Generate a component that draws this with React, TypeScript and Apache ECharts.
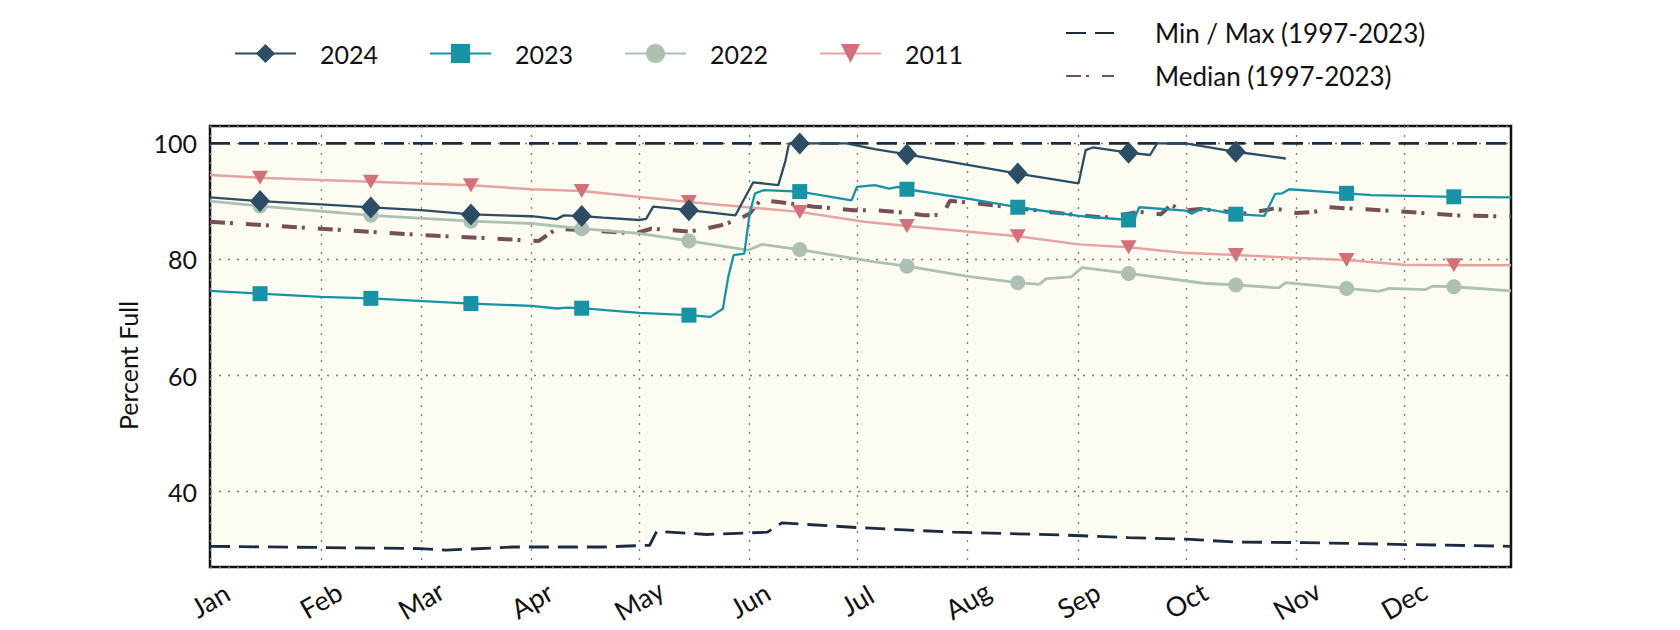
import React, { useEffect, useRef } from "react";
import * as echarts from "echarts";

const monthNames = ["Jan", "Feb", "Mar", "Apr", "May", "Jun", "Jul", "Aug", "Sep", "Oct", "Nov", "Dec"];
const monthStartDays = [0, 31, 59, 90, 120, 151, 181, 212, 243, 273, 304, 334];
const markerDays = [14, 45, 73, 104, 134, 165, 195, 226, 257, 287, 318, 348];
const yTicks = [40, 60, 80, 100];

const days2024 = [0, 14, 31, 45, 59, 73, 90, 97, 99, 104, 110, 120, 122, 124, 134, 147, 149, 152, 159, 161, 162, 165, 178, 186, 195, 212, 226, 243, 245, 247, 257, 263, 265, 273, 287, 301];
const pct2024 = [90.7, 90.06, 89.5, 88.97, 88.5, 87.76, 87.45, 86.95, 87.6, 87.47, 87.2, 86.8, 87.0, 89.1, 88.5, 87.6, 89.9, 93.3, 92.8, 97.0, 100, 100, 100, 99.0, 98.1, 96.3, 94.8, 93.1, 98.85, 99.3, 98.4, 98.0, 100, 100, 98.56, 97.4];

const days2023 = [0, 14, 31, 45, 73, 90, 97, 100, 104, 120, 134, 140, 143.5, 145, 146.5, 149.5, 151, 152.5, 155, 165, 179.5, 181, 186, 190, 192.5, 195, 212, 226, 243, 257, 258.5, 260, 273, 274.7, 277.5, 287, 295, 298, 300, 302, 318, 325, 348, 364];
const pct2023 = [74.6, 74.1, 73.56, 73.3, 72.4, 72.0, 71.55, 71.7, 71.6, 70.8, 70.4, 70.1, 71.5, 77.0, 80.75, 81.0, 88.0, 91.4, 91.95, 91.7, 90.2, 92.5, 92.8, 92.2, 92.5, 92.1, 90.5, 89.0, 87.5, 86.8, 86.8, 89.0, 88.4, 87.9, 88.8, 87.8, 87.5, 91.3, 91.4, 92.1, 91.4, 91.1, 90.8, 90.7];

const days2022 = [0, 14, 45, 73, 90, 104, 120, 134, 150.5, 154.5, 165, 180, 186, 195, 212, 226, 232, 234, 241, 244, 257, 278, 287, 299, 301, 318, 327, 330, 340, 342, 348, 364];
const pct2022 = [90.06, 89.2, 87.6, 86.6, 86.2, 85.3, 84.5, 83.2, 81.6, 82.6, 81.7, 80.2, 79.6, 78.85, 77.1, 76.0, 75.7, 76.7, 77.0, 78.6, 77.6, 75.9, 75.6, 75.1, 76.0, 75.0, 74.5, 75.0, 74.8, 75.4, 75.3, 74.6];

const days2011 = [0, 14, 31, 45, 59, 73, 90, 104, 134, 165, 183, 195, 226, 243, 257, 272, 287, 318, 334, 348, 364];
const pct2011 = [94.54, 94.1, 93.7, 93.4, 93.1, 92.8, 92.1, 91.8, 89.9, 88.2, 86.5, 85.75, 84.0, 82.6, 82.1, 81.15, 80.75, 79.9, 79.1, 79.0, 79.0];

const daysMedian = [0, 31, 59, 80, 88, 92, 97, 119, 123.5, 134, 138.5, 143, 147.5, 151, 154, 159, 169, 180, 186, 195, 200, 205, 207, 214, 239, 250, 260, 266, 269, 272, 277, 290, 298, 304, 309, 313, 330, 349, 364];
const pctMedian = [86.5, 85.3, 84.2, 83.6, 83.3, 83.2, 85.3, 84.5, 85.3, 84.8, 85.3, 85.9, 86.8, 87.9, 90.2, 89.9, 89.1, 88.5, 88.5, 88.0, 87.6, 87.7, 90.1, 89.7, 87.9, 87.2, 88.2, 87.8, 89.4, 88.4, 88.7, 87.9, 88.8, 88.0, 88.2, 89.0, 88.4, 87.6, 87.4];

const daysMin = [0, 59, 66, 85, 110, 123, 125, 139, 156, 160, 181, 208, 239, 257, 273, 287, 306, 336, 364];
const pctMin = [30.57, 30.17, 29.9, 30.45, 30.45, 30.75, 33.15, 32.6, 33.0, 34.6, 33.8, 33.0, 32.5, 32.07, 31.8, 31.3, 31.2, 30.86, 30.57];

const daysMax = [0, 364];
const pctMax = [100, 100];

const FONT = "Lato";
const TEXT = "#111111";

function pairs(days: number[], vals: number[]) {
  return days.map((d, i) => [d, vals[i]]);
}

function withMarkers(days: number[], vals: number[]) {
  return days.map((d, i) =>
    markerDays.indexOf(d) >= 0 ? { value: [d, vals[i]] } : { value: [d, vals[i]], symbol: "none" }
  );
}

export default function App() {
  const ref = useRef<HTMLDivElement>(null);

  useEffect(() => {
    if (!ref.current) return;
    const chart = echarts.init(ref.current, undefined, { renderer: "svg" });

    const minMaxName = "Min / Max (1997-2023)";
    const medianName = "Median (1997-2023)";

    const option: any = {
      animation: false,
      textStyle: { fontFamily: FONT, color: TEXT },
      grid: {
        left: 210,
        top: 126,
        width: 1301,
        height: 441,
        show: true,
        borderColor: "#111",
        borderWidth: 2.5,
        backgroundColor: "transparent",
      },
      legend: [
        {
          data: ["2024", "2023", "2022", "2011"],
          left: 229,
          top: 36,
          orient: "horizontal",
          itemWidth: 61,
          itemHeight: 24,
          itemGap: 51,
          textStyle: {
            fontFamily: FONT,
            fontSize: 25,
            color: TEXT,
            width: 54,
            lineHeight: 24,
            padding: [0, 0, 0, 19],
          },
        },
        {
          data: [minMaxName, medianName],
          left: 1060,
          top: 15,
          orient: "vertical",
          itemWidth: 48,
          itemHeight: 24,
          itemGap: 17,
          itemStyle: { opacity: 0 },
          textStyle: {
            fontFamily: FONT,
            fontSize: 26,
            color: TEXT,
            lineHeight: 24,
            padding: [0, 0, 0, 36],
          },
        },
      ],
      xAxis: {
        type: "value",
        min: 0,
        max: 364,
        axisLine: { show: false },
        axisTick: { show: false, customValues: monthStartDays },
        axisLabel: {
          customValues: monthStartDays,
          formatter: (v: number) => monthNames[monthStartDays.indexOf(v)] || "",
          rotate: 30,
          align: "center",
          verticalAlign: "middle",
          margin: 33,
          fontSize: 27,
          fontFamily: FONT,
          color: TEXT,
        },
        splitLine: {
          show: true,
          lineStyle: { color: "#7a7a7a", type: [2, 7], width: 1.3 },
        },
      },
      yAxis: {
        type: "value",
        min: 27,
        max: 103,
        splitNumber: 4,
        name: "Percent Full",
        nameLocation: "middle",
        nameGap: 70,
        nameTextStyle: { fontFamily: FONT, fontSize: 25, color: TEXT, padding: [0, 38, 0, 0] },
        axisLine: { show: false },
        axisTick: { show: false },
        axisLabel: {
          showMinLabel: false,
          showMaxLabel: false,
          margin: 13,
          fontSize: 25,
          fontFamily: FONT,
          color: TEXT,
          formatter: (v: number) => (yTicks.indexOf(v) >= 0 ? String(v) : ""),
        },
        splitLine: {
          show: true,
          lineStyle: { color: "#7a7a7a", type: [2, 7], width: 1.3 },
        },
      },
      series: [
        {
          name: "bandTop",
          type: "line",
          z: -2,
          silent: true,
          symbol: "none",
          data: pairs(daysMax, pctMax),
          lineStyle: { opacity: 0 },
          areaStyle: { color: "#fcfcf3", opacity: 1, origin: "start" },
        },
        {
          name: "bandBottom",
          type: "line",
          z: -1,
          silent: true,
          symbol: "none",
          data: pairs(daysMin, pctMin),
          lineStyle: { opacity: 0 },
          areaStyle: { color: "#ffffff", opacity: 1, origin: "start" },
        },
        {
          name: minMaxName,
          type: "line",
          symbol: "none",
          data: pairs(daysMin, pctMin),
          lineStyle: { color: "#1b2c42", width: 2.8, type: [20, 9] },
          itemStyle: { color: "#1b2c42" },
        },
        {
          name: minMaxName,
          type: "line",
          symbol: "none",
          data: pairs(daysMax, pctMax),
          lineStyle: { color: "#1b2c42", width: 2.8, type: [20, 9] },
          itemStyle: { color: "#1b2c42" },
        },
        {
          name: medianName,
          type: "line",
          symbol: "none",
          data: pairs(daysMedian, pctMedian),
          lineStyle: { color: "#774f5a", width: 4, type: [15, 5, 3, 13] },
          itemStyle: { color: "#774f5a" },
        },
        {
          name: "2011",
          type: "line",
          symbol: "triangle",
          symbolRotate: 180,
          symbolSize: [16, 14],
          showAllSymbol: true,
          data: withMarkers(days2011, pct2011),
          lineStyle: { color: "#e6a3a0", width: 2.5 },
          itemStyle: { color: "#d4707a" },
        },
        {
          name: "2022",
          type: "line",
          symbol: "circle",
          symbolSize: 15,
          showAllSymbol: true,
          data: withMarkers(days2022, pct2022),
          lineStyle: { color: "#adc0b4", width: 2.8 },
          itemStyle: { color: "#adc0b4" },
        },
        {
          name: "2023",
          type: "line",
          symbol: "rect",
          symbolSize: 15,
          showAllSymbol: true,
          data: withMarkers(days2023, pct2023),
          lineStyle: { color: "#1893a6", width: 2.3 },
          itemStyle: { color: "#1893a6" },
        },
        {
          name: "2024",
          type: "line",
          symbol: "diamond",
          symbolSize: [20, 22],
          showAllSymbol: true,
          data: withMarkers(days2024, pct2024),
          lineStyle: { color: "#2c4d63", width: 2.3 },
          itemStyle: { color: "#2c4d63" },
        },
      ],
    };

    chart.setOption(option);
    return () => chart.dispose();
  }, []);

  return (
    <div
      ref={ref}
      style={{ position: "fixed", left: 0, top: 0, width: 1680, height: 630, background: "#ffffff" }}
    />
  );
}
